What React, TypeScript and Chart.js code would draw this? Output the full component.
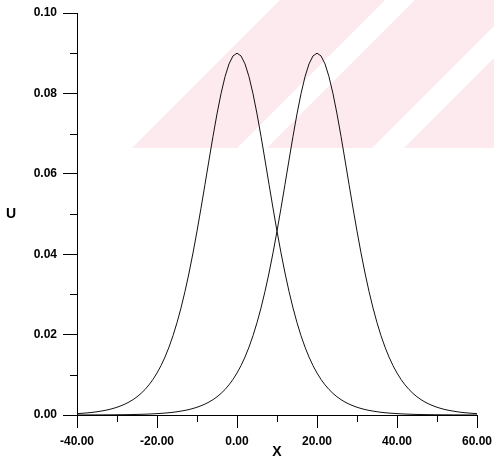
import React, { useEffect, useRef } from 'react';
import { Chart, registerables } from 'chart.js';

Chart.register(...registerables);

// x positions (X)
const xValues = [
  -40, -39, -38, -37, -36, -35, -34, -33, -32, -31,
  -30, -29, -28, -27, -26, -25, -24, -23, -22, -21,
  -20, -19, -18, -17, -16, -15, -14, -13, -12, -11,
  -10, -9, -8, -7, -6, -5, -4, -3, -2, -1,
  0, 1, 2, 3, 4, 5, 6, 7, 8, 9,
  10, 11, 12, 13, 14, 15, 16, 17, 18, 19,
  20, 21, 22, 23, 24, 25, 26, 27, 28, 29,
  30, 31, 32, 33, 34, 35, 36, 37, 38, 39,
  40, 41, 42, 43, 44, 45, 46, 47, 48, 49,
  50, 51, 52, 53, 54, 55, 56, 57, 58, 59,
  60,
];

// U, pulse centred at X = 0
const pulseAt0 = [
  0.00034, 0.00041, 0.00048, 0.00057, 0.00068, 0.00081, 0.00097, 0.00115, 0.00136, 0.00162,
  0.00193, 0.00229, 0.00272, 0.00322, 0.00382, 0.00453, 0.00536, 0.00635, 0.0075, 0.00886,
  0.01044, 0.01228, 0.01442, 0.01689, 0.01973, 0.02297, 0.02664, 0.03075, 0.03532, 0.04032,
  0.04573, 0.05146, 0.0574, 0.06342, 0.06933, 0.07491, 0.07992, 0.08414, 0.08733, 0.08932,
  0.09, 0.08932, 0.08733, 0.08414, 0.07992, 0.07491, 0.06933, 0.06342, 0.0574, 0.05146,
  0.04573, 0.04032, 0.03532, 0.03075, 0.02664, 0.02297, 0.01973, 0.01689, 0.01442, 0.01228,
  0.01044, 0.00886, 0.0075, 0.00635, 0.00536, 0.00453, 0.00382, 0.00322, 0.00272, 0.00229,
  0.00193, 0.00162, 0.00136, 0.00115, 0.00097, 0.00081, 0.00068, 0.00057, 0.00048, 0.00041,
  0.00034, 0.00029, 0.00024, 0.0002, 0.00017, 0.00014, 0.00012, 0.0001, 0.00008, 0.00007,
  0.00006, 0.00005, 0.00004, 0.00004, 0.00003, 0.00003, 0.00002, 0.00002, 0.00001, 0.00001,
  0.00001,
];

// U, pulse centred at X = 20
const pulseAt20 = [
  0.00001, 0.00001, 0.00001, 0.00002, 0.00002, 0.00003, 0.00003, 0.00004, 0.00004, 0.00005,
  0.00006, 0.00007, 0.00008, 0.0001, 0.00012, 0.00014, 0.00017, 0.0002, 0.00024, 0.00029,
  0.00034, 0.00041, 0.00048, 0.00057, 0.00068, 0.00081, 0.00097, 0.00115, 0.00136, 0.00162,
  0.00193, 0.00229, 0.00272, 0.00322, 0.00382, 0.00453, 0.00536, 0.00635, 0.0075, 0.00886,
  0.01044, 0.01228, 0.01442, 0.01689, 0.01973, 0.02297, 0.02664, 0.03075, 0.03532, 0.04032,
  0.04573, 0.05146, 0.0574, 0.06342, 0.06933, 0.07491, 0.07992, 0.08414, 0.08733, 0.08932,
  0.09, 0.08932, 0.08733, 0.08414, 0.07992, 0.07491, 0.06933, 0.06342, 0.0574, 0.05146,
  0.04573, 0.04032, 0.03532, 0.03075, 0.02664, 0.02297, 0.01973, 0.01689, 0.01442, 0.01228,
  0.01044, 0.00886, 0.0075, 0.00635, 0.00536, 0.00453, 0.00382, 0.00322, 0.00272, 0.00229,
  0.00193, 0.00162, 0.00136, 0.00115, 0.00097, 0.00081, 0.00068, 0.00057, 0.00048, 0.00041,
  0.00034,
];

const xMinorTicks = [-30, -10, 10, 30, 50];
const yMinorTicks = [0.01, 0.03, 0.05, 0.07, 0.09];
const xTitle = 'X';
const yTitle = 'U';

const FONT = "'Liberation Sans', Arial, sans-serif";

const watermarkPlugin = {
  id: 'watermark',
  beforeDraw(chart: any) {
    const ctx = chart.ctx;
    const h = 148;
    const bands = [
      [280, 385],
      [415, 520],
      [552, 660],
    ];
    ctx.save();
    ctx.beginPath();
    ctx.rect(0, 0, chart.width, h);
    ctx.clip();
    ctx.fillStyle = '#fdeaee';
    for (const [a, b] of bands) {
      ctx.beginPath();
      ctx.moveTo(a, 0);
      ctx.lineTo(b, 0);
      ctx.lineTo(b - h, h);
      ctx.lineTo(a - h, h);
      ctx.closePath();
      ctx.fill();
    }
    ctx.restore();
  },
};

const extrasPlugin = {
  id: 'extras',
  afterDraw(chart: any) {
    const { ctx, chartArea, scales } = chart;
    ctx.save();
    ctx.strokeStyle = '#000';
    ctx.lineWidth = 1;
    ctx.beginPath();
    for (const v of yMinorTicks) {
      const py = Math.round(scales.y.getPixelForValue(v)) + 0.5;
      ctx.moveTo(chartArea.left - 7, py);
      ctx.lineTo(chartArea.left, py);
    }
    for (const v of xMinorTicks) {
      const px = Math.round(scales.x.getPixelForValue(v)) + 0.5;
      ctx.moveTo(px, chartArea.bottom);
      ctx.lineTo(px, chartArea.bottom + 7);
    }
    ctx.stroke();
    ctx.fillStyle = '#000';
    ctx.font = `bold 14px ${FONT}`;
    ctx.textAlign = 'center';
    ctx.textBaseline = 'middle';
    ctx.fillText(yTitle, 11, (chartArea.top + chartArea.bottom) / 2);
    ctx.restore();
  },
};

export default function App() {
  const canvasRef = useRef<HTMLCanvasElement | null>(null);

  useEffect(() => {
    const canvas = canvasRef.current;
    if (!canvas) return;
    const toPoints = (ys: number[]) => xValues.map((x, i) => ({ x, y: ys[i] }));
    const zeroPad = (scale: any) => {
      scale.paddingTop = 0;
      scale.paddingBottom = 0;
      scale.paddingLeft = 0;
      scale.paddingRight = 0;
    };
    const chart = new Chart(canvas, {
      type: 'line',
      data: {
        datasets: [
          {
            data: toPoints(pulseAt0),
            borderColor: '#111',
            borderWidth: 1,
            pointRadius: 0,
            tension: 0,
            fill: false,
          },
          {
            data: toPoints(pulseAt20),
            borderColor: '#111',
            borderWidth: 1,
            pointRadius: 0,
            tension: 0,
            fill: false,
          },
        ],
      },
      options: {
        responsive: false,
        animation: false,
        devicePixelRatio: 1,
        layout: { padding: { left: 0, top: 13, right: 17, bottom: 0 } },
        plugins: {
          legend: { display: false },
          tooltip: { enabled: false },
        },
        scales: {
          x: {
            type: 'linear',
            min: -40,
            max: 60,
            afterFit: (s: any) => {
              s.height = 51;
              zeroPad(s);
            },
            ticks: {
              stepSize: 20,
              color: '#000',
              padding: 6,
              maxRotation: 0,
              font: { family: FONT, size: 12, weight: 'bold' },
              callback: (v: any) => Number(v).toFixed(2),
            },
            grid: {
              display: true,
              drawOnChartArea: false,
              drawTicks: true,
              tickLength: 13,
              color: '#000',
              lineWidth: 1,
            },
            border: { display: true, color: '#000', width: 1 },
            title: {
              display: true,
              text: xTitle,
              color: '#000',
              font: { family: FONT, size: 14, weight: 'bold' },
              padding: { top: 0, bottom: 5 },
            },
          },
          y: {
            type: 'linear',
            min: 0,
            max: 0.1,
            afterFit: (s: any) => {
              s.width = 77;
              zeroPad(s);
            },
            ticks: {
              stepSize: 0.02,
              color: '#000',
              padding: 6,
              font: { family: FONT, size: 12, weight: 'bold' },
              callback: (v: any) => Number(v).toFixed(2),
            },
            grid: {
              display: true,
              drawOnChartArea: false,
              drawTicks: true,
              tickLength: 14,
              color: '#000',
              lineWidth: 1,
            },
            border: { display: true, color: '#000', width: 1 },
          },
        },
      } as any,
      plugins: [watermarkPlugin, extrasPlugin],
    });
    return () => chart.destroy();
  }, []);

  return (
    <div style={{ position: 'absolute', left: 0, top: 0, width: 494, height: 466, background: '#fff' }}>
      <canvas ref={canvasRef} width={494} height={466} style={{ display: 'block' }} />
    </div>
  );
}
